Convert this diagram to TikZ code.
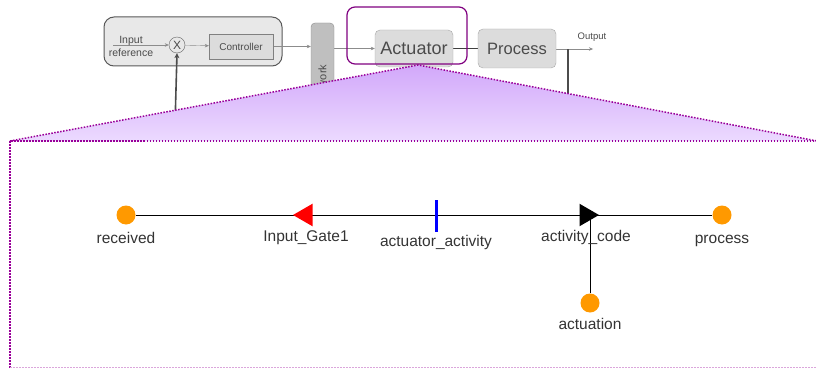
\documentclass[tikz,border=0pt]{standalone}
\usepackage{fontspec}
\setmainfont{Liberation Sans}
\usetikzlibrary{shapes.geometric,arrows.meta,positioning,backgrounds,calc}
\definecolor{placeorange}{RGB}{255,153,0}
\definecolor{zoompurple}{RGB}{128,0,128}
\definecolor{dotpurple}{RGB}{153,0,153}
\definecolor{shadetop}{RGB}{210,168,250}
\definecolor{shadebot}{RGB}{236,218,255}
\definecolor{boxgrey}{RGB}{220,220,220}
\definecolor{textgrey}{RGB}{75,75,75}

\begin{document}
\begin{tikzpicture}[x=1pt,y=-1pt,
  blk/.style={draw=black!35,fill=boxgrey,rounded corners=5pt,text=textgrey,inner sep=0pt},
  sig/.style={draw=black!45,-{Stealth[length=4pt,width=3.5pt]}},
  fb/.style={draw=black!70,line width=1.6pt},
  place/.style={circle,fill=placeorange,minimum size=19pt,inner sep=0pt},
  gatein/.style={regular polygon,regular polygon sides=3,shape border rotate=90,
                 fill=red,minimum size=26pt,inner sep=0pt},
  gateout/.style={regular polygon,regular polygon sides=3,shape border rotate=-90,
                  fill=black,minimum size=26pt,inner sep=0pt},
  activity/.style={fill=blue,minimum width=3pt,minimum height=32pt,inner sep=0pt},
  lbl/.style={font=\fontsize{15.5pt}{17pt}\selectfont,text=black!80,
              text height=11pt,text depth=3pt,inner sep=0pt},
  arc/.style={draw=black,line width=0.8pt},
  zoomdots/.style={draw=dotpurple,line width=1.5pt,dash pattern=on 1.5pt off 1.5pt}
]
\useasboundingbox (0,0) rectangle (816,369);

% control loop sketch (top)
\begin{scope}[on background layer]
\node[draw=black!65,fill=black!9,rounded corners=10pt,line width=1pt,
      minimum width=178pt,minimum height=49pt] (loop) at (193,41.5) {};
\end{scope}
\node[font=\fontsize{10.5pt}{13pt}\selectfont,text=textgrey,align=center,inner sep=0pt]
      (inref) at (131,46) {Input\\reference};
\node[circle,draw=black!60,fill=black!9,minimum size=16pt,inner sep=0pt,
      font=\fontsize{12pt}{12pt}\selectfont,text=textgrey] (sum) at (177,45) {X};
\node[blk,rounded corners=0pt,draw=black!50,minimum width=64pt,minimum height=25pt,
      font=\fontsize{10pt}{12pt}\selectfont] (ctrl) at (241,46.5) {Controller};
\node[blk,fill=black!25,draw=black!45,rounded corners=4pt,
      minimum width=23pt,minimum height=100pt] (net) at (322.5,73) {};
\node[rotate=90,text=textgrey,inner sep=0pt,
      font=\fontsize{11pt}{12pt}\selectfont] (netname) at (322.5,85) {Network};
\node[blk,minimum width=78pt,minimum height=37pt,
      font=\fontsize{18pt}{20pt}\selectfont] (act) at (414,48.5) {Actuator};
\node[blk,minimum width=78pt,minimum height=39pt,
      font=\fontsize{16.5pt}{18pt}\selectfont] (proc) at (517,48.5) {Process};
\node[font=\fontsize{9.5pt}{11pt}\selectfont,text=textgrey,inner sep=0pt]
      (out) at (592,37) {Output};
\coordinate (inl) at (113,45);
\coordinate (outend) at (593,49);
\coordinate (fbl) at (175,125);
\coordinate (fbr) at (568,125);

% zoom funnel
\coordinate (zl) at (10,141);
\coordinate (zapex) at (418,65);
\coordinate (zr) at (817,141);
\coordinate (zbl) at (10,367.5);
\coordinate (zbr) at (817,367.5);
\shade[top color=shadetop,bottom color=shadebot] (zl) -- (zapex) -- (zr) -- cycle;
\draw[zoomdots] (zl) -- (zapex) -- (zr);
\draw[zoomdots] (zr) -- (zl) -- (zbl);
\draw[zoomdots,draw=dotpurple!35] (zbl) -- (zbr);
\node[draw=zoompurple,line width=1.2pt,rounded corners=8pt,
      minimum width=120pt,minimum height=57pt] (zoom) at (407,35.5) {};

% actuator net (bottom)
\node[place,label={[lbl,label distance=8pt]below:received}] (received) at (126,215) {};
\node[gatein,label={[lbl,label distance=8pt]below:Input\_Gate1}] (gate) at (306,215) {};
\node[activity,label={[lbl,label distance=3pt]below:actuator\_activity}] (actact) at (436,216) {};
\node[gateout,label={[lbl,label distance=8pt]below:activity\_code}] (code) at (586,215) {};
\node[place,label={[lbl,label distance=8pt]below:process}] (process) at (722,215) {};
\node[place,label={[lbl,label distance=6pt]below:actuation}] (actuation) at (590,303) {};

\begin{scope}[on background layer]
  \draw[sig] (inl) -- (sum);
  \draw[sig] (sum) -- (ctrl);
  \draw[sig] (ctrl.east) -- (ctrl.east -| net.west);
  \draw[sig] (net.east |- act.west) -- (act.west);
  \draw[draw=black!75,line width=1.6pt] (act.east |- proc.west) -- (proc.west);
  \draw[sig] (proc.east |- outend) -- (outend);
  \draw[fb] (fbr) -- (fbr |- outend);
  \draw[fb,-{Stealth[length=5pt,width=5pt]}] (fbl) -- (sum.south);
  \draw[arc] (received) -- (process);
  \draw[arc] (actuation) -- (actuation |- code);
\end{scope}
\end{tikzpicture}
\end{document}
